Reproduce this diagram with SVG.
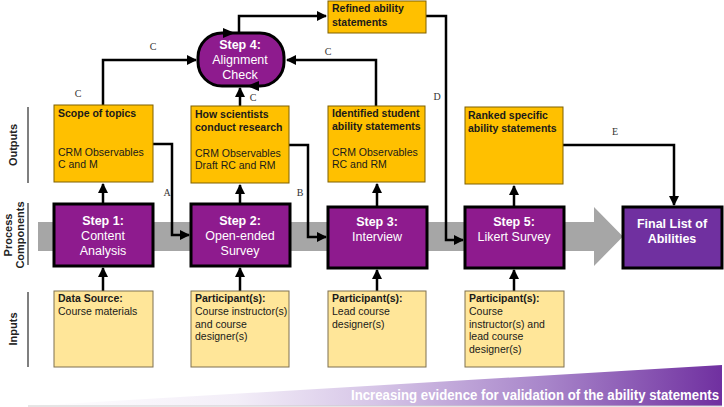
<svg xmlns="http://www.w3.org/2000/svg" width="724" height="407" viewBox="0 0 724 407">
<defs>
<style>
text{font-family:"Liberation Sans",Arial,sans-serif;}
.out{fill:#FFC000;stroke:#7F6000;stroke-width:1;}
.inp{fill:#FFE699;stroke:#7F7050;stroke-width:1;}
.step{fill:#8E1B8E;stroke:#000;stroke-width:3;}
.fin{fill:#7030A0;stroke:#000;stroke-width:3;}
.bt{font-size:10.5px;font-weight:bold;fill:#1a1a1a;}
.rt{font-size:10.5px;fill:#1a1a1a;}
.sb{font-size:12.5px;font-weight:bold;fill:#fff;text-anchor:middle;}
.sr{font-size:12.5px;fill:#fff;text-anchor:middle;}
.lab{font-size:11px;font-weight:bold;fill:#222;text-anchor:middle;}
.cl{font-family:"Liberation Serif","Times New Roman",serif;font-size:10px;fill:#333;text-anchor:middle;}
.con{fill:none;stroke:#000;stroke-width:2.5;}
.sep{stroke:#555;stroke-width:1.5;}
</style>
<marker id="ah" viewBox="0 0 10 10" refX="9" refY="5" markerWidth="4" markerHeight="4" markerUnits="strokeWidth" orient="auto">
<path d="M0,0 L10,5 L0,10 z" fill="#000"/>
</marker>
<linearGradient id="wg" x1="0" y1="0" x2="1" y2="0">
<stop offset="0" stop-color="#ffffff"/>
<stop offset="0.3" stop-color="#f3eef8"/>
<stop offset="0.5" stop-color="#d6c5e7"/>
<stop offset="0.75" stop-color="#a784c9"/>
<stop offset="1" stop-color="#7030A0"/>
</linearGradient>
</defs>
<rect width="724" height="407" fill="#fff"/>

<!-- side labels -->
<g id="side-labels">
<line class="sep" x1="28" y1="107" x2="28" y2="183"/>
<text class="lab" transform="translate(17,145) rotate(-90)">Outputs</text>
<line class="sep" x1="28" y1="203" x2="28" y2="265"/>
<text class="lab" transform="translate(12,235) rotate(-90)">Process</text>
<text class="lab" transform="translate(24,235) rotate(-90)">Components</text>
<line class="sep" x1="28" y1="292" x2="28" y2="367"/>
<text class="lab" transform="translate(17,329) rotate(-90)">Inputs</text>
</g>

<!-- gray process band -->
<g id="band">
<path d="M38,222 L594,222 L594,207 L623,236.5 L594,266 L594,251 L38,251 z" fill="#A6A6A6"/>
</g>

<!-- bottom wedge -->
<g id="wedge">
<path d="M28,406 L722,365 L722,406 z" fill="url(#wg)"/>
<line x1="28" y1="406" x2="722" y2="406" stroke="#ccc" stroke-width="1"/>
<text x="719" y="400" font-size="14.5" font-weight="bold" fill="#fff" text-anchor="end" textLength="368" lengthAdjust="spacingAndGlyphs">Increasing evidence for validation of the ability statements</text>
</g>

<!-- connectors -->
<g id="connectors">
<line class="con" x1="103" y1="204" x2="103" y2="184" marker-end="url(#ah)"/>
<line class="con" x1="240" y1="204" x2="240" y2="185" marker-end="url(#ah)"/>
<line class="con" x1="377" y1="207" x2="377" y2="184" marker-end="url(#ah)"/>
<line class="con" x1="514" y1="207" x2="514" y2="186" marker-end="url(#ah)"/>
<line class="con" x1="103" y1="291" x2="103" y2="268" marker-end="url(#ah)"/>
<line class="con" x1="240" y1="291" x2="240" y2="268" marker-end="url(#ah)"/>
<line class="con" x1="377" y1="291" x2="377" y2="270" marker-end="url(#ah)"/>
<line class="con" x1="514" y1="291" x2="514" y2="270" marker-end="url(#ah)"/>
<polyline class="con" points="103,105 103,60 196,60" marker-end="url(#ah)"/>
<polyline class="con" points="376,106 376,60 287,60" marker-end="url(#ah)"/>
<line class="con" x1="240" y1="106" x2="240" y2="88" marker-end="url(#ah)"/>
<polyline class="con" points="239,33 239,16 326,16" marker-end="url(#ah)"/>
<polyline class="con" points="153,144 172,144 172,235 189,235" marker-end="url(#ah)"/>
<polyline class="con" points="289,145 308,145 308,237 326,237" marker-end="url(#ah)"/>
<polyline class="con" points="426,16 446,16 446,240 463,240" marker-end="url(#ah)"/>
<polyline class="con" points="563,145 674,145 674,205" marker-end="url(#ah)"/>
<text class="cl" x="153" y="50">C</text>
<text class="cl" x="78" y="97">C</text>
<text class="cl" x="253" y="101">C</text>
<text class="cl" x="328" y="55">C</text>
<text class="cl" x="167" y="196">A</text>
<text class="cl" x="300" y="196">B</text>
<text class="cl" x="437" y="100" font-family="Liberation Sans,Arial,sans-serif">D</text>
<text class="cl" x="615" y="135">E</text>
</g>

<!-- outputs -->
<g id="out-scope">
<rect class="out" x="54" y="105" width="99" height="77"/>
<text class="bt" x="58" y="117">Scope of topics</text>
<text class="rt" x="58" y="156">CRM Observables</text>
<text class="rt" x="58" y="168">C and M</text>
</g>
<g id="out-how">
<rect class="out" x="191" y="106" width="98" height="77"/>
<text class="bt" x="195" y="118">How scientists</text>
<text class="bt" x="195" y="131">conduct research</text>
<text class="rt" x="195" y="157">CRM Observables</text>
<text class="rt" x="195" y="169">Draft RC and RM</text>
</g>
<g id="out-identified">
<rect class="out" x="328" y="106" width="97" height="76"/>
<text class="bt" x="332" y="117">Identified student</text>
<text class="bt" x="332" y="130">ability statements</text>
<text class="rt" x="332" y="156">CRM Observables</text>
<text class="rt" x="332" y="168">RC and RM</text>
</g>
<g id="out-refined">
<rect class="out" x="328" y="1" width="98" height="32"/>
<text class="bt" x="332" y="12">Refined ability</text>
<text class="bt" x="332" y="26">statements</text>
</g>
<g id="out-ranked">
<rect class="out" x="465" y="107" width="98" height="77"/>
<text class="bt" x="468" y="119">Ranked specific</text>
<text class="bt" x="468" y="132">ability statements</text>
</g>

<!-- step 4 -->
<g id="step4">
<rect class="step" x="198" y="33" width="86" height="53" rx="24" ry="24"/>
<path d="M223,28 L235,33 L223,38 z" fill="#000"/>
<path d="M259,81 L247,86 L259,91 z" fill="#000"/>
<text class="sb" x="240" y="49">Step 4:</text>
<text class="sr" x="240" y="64">Alignment</text>
<text class="sr" x="240" y="79">Check</text>
</g>

<!-- process steps -->
<g id="step1">
<rect class="step" x="54" y="204" width="99" height="62"/>
<text class="sb" x="103" y="225">Step 1:</text>
<text class="sr" x="103" y="240">Content</text>
<text class="sr" x="103" y="255">Analysis</text>
</g>
<g id="step2">
<rect class="step" x="191" y="204" width="99" height="62"/>
<text class="sb" x="240" y="225">Step 2:</text>
<text class="sr" x="240" y="240">Open-ended</text>
<text class="sr" x="240" y="255">Survey</text>
</g>
<g id="step3">
<rect class="step" x="328" y="207" width="99" height="61"/>
<text class="sb" x="377" y="226">Step 3:</text>
<text class="sr" x="377" y="241">Interview</text>
</g>
<g id="step5">
<rect class="step" x="465" y="207" width="99" height="61"/>
<text class="sb" x="514" y="226">Step 5:</text>
<text class="sr" x="514" y="241">Likert Survey</text>
</g>
<g id="final">
<rect class="fin" x="623" y="207" width="99" height="61"/>
<text class="sb" x="672" y="228">Final List of</text>
<text class="sb" x="672" y="243">Abilities</text>
</g>

<!-- inputs -->
<g id="in1">
<rect class="inp" x="54" y="291" width="99" height="76"/>
<text class="bt" x="58" y="302">Data Source:</text>
<text class="rt" x="58" y="315">Course materials</text>
</g>
<g id="in2">
<rect class="inp" x="191" y="291" width="98" height="76"/>
<text class="bt" x="195" y="302">Participant(s):</text>
<text class="rt" x="195" y="315">Course instructor(s)</text>
<text class="rt" x="195" y="327.5">and course</text>
<text class="rt" x="195" y="340">designer(s)</text>
</g>
<g id="in3">
<rect class="inp" x="328" y="291" width="98" height="76"/>
<text class="bt" x="332" y="302">Participant(s):</text>
<text class="rt" x="332" y="315">Lead course</text>
<text class="rt" x="332" y="327.5">designer(s)</text>
</g>
<g id="in5">
<rect class="inp" x="465" y="291" width="99" height="76"/>
<text class="bt" x="469" y="302">Participant(s):</text>
<text class="rt" x="469" y="315">Course</text>
<text class="rt" x="469" y="327.5">instructor(s) and</text>
<text class="rt" x="469" y="340">lead course</text>
<text class="rt" x="469" y="352.5">designer(s)</text>
</g>
</svg>
